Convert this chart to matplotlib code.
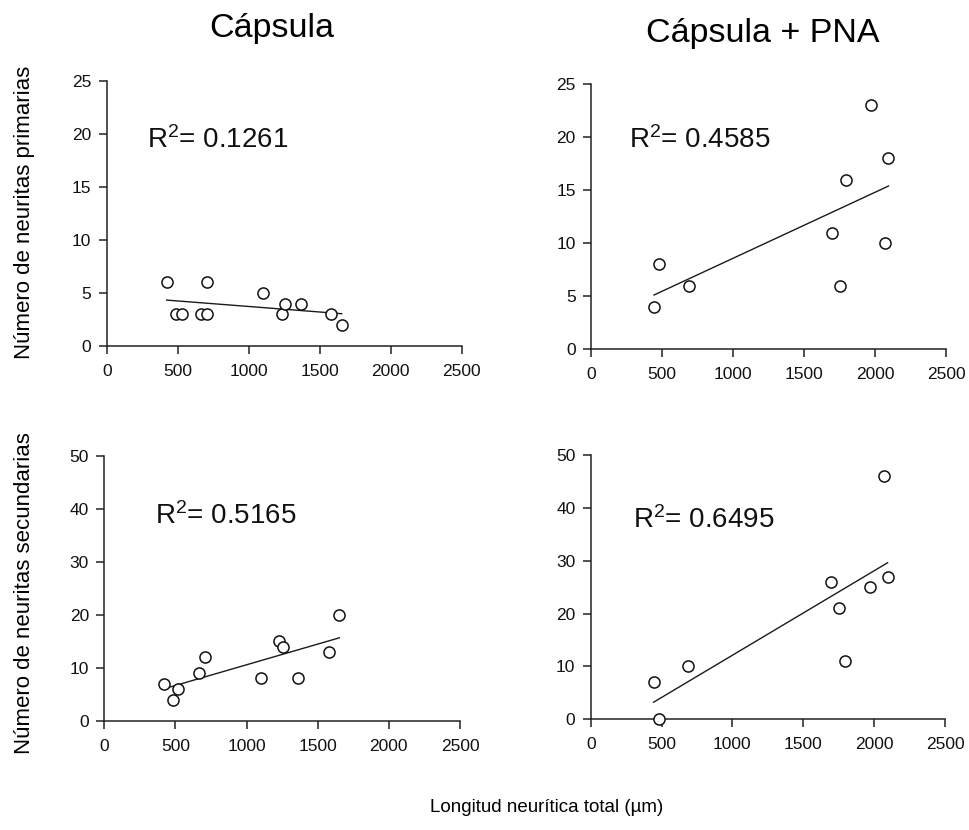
import numpy as np
import matplotlib
matplotlib.use("Agg")
import matplotlib.pyplot as plt

plt.rcParams['font.family'] = ['Liberation Sans', 'DejaVu Sans']
plt.rcParams['mathtext.fontset'] = 'custom'
plt.rcParams['mathtext.rm'] = 'Liberation Sans'
plt.rcParams['mathtext.it'] = 'Liberation Sans'

# Datos
# Cápsula - neuritas primarias
cap_long_prim = [422, 490, 527, 661, 705, 709, 1103, 1232, 1256, 1366, 1580, 1655]
cap_prim = [6, 3, 3, 3, 3, 6, 5, 3, 4, 4, 3, 2]
# Cápsula - neuritas secundarias
cap_long_sec = [420, 481, 520, 665, 708, 1101, 1230, 1258, 1364, 1577, 1652]
cap_sec = [7, 4, 6, 9, 12, 8, 15, 14, 8, 13, 20]
# Cápsula + PNA
pna_long = [444, 480, 688, 1695, 1755, 1794, 1970, 2071, 2095]
pna_prim = [4, 8, 6, 11, 6, 16, 23, 10, 18]
pna_sec = [7, 0, 10, 26, 21, 11, 25, 46, 27]

r2_labels = ["0.1261", "0.4585", "0.5165", "0.6495"]
x_ticks = [0, 500, 1000, 1500, 2000, 2500]
prim_ticks = [0, 5, 10, 15, 20, 25]
sec_ticks = [0, 10, 20, 30, 40, 50]

W, H = 970, 830
fig = plt.figure(figsize=(W / 100, H / 100), dpi=100)


def px_axes(left, top, right, bottom):
    # caja de ejes a partir de píxeles de la imagen
    return fig.add_axes([left / W, 1 - bottom / H, (right - left) / W, (bottom - top) / H])


def panel(ax, x, y, yticks, r2, r2_pos):
    x = np.array(x, dtype=float)
    y = np.array(y, dtype=float)
    m, b = np.polyfit(x, y, 1)
    xs = np.array([x.min(), x.max()])
    ax.plot(xs, m * xs + b, color='#1a1a1a', lw=1.0, zorder=2)
    ax.plot(x, y, 'o', ms=8, mfc='white', mec='#111111', mew=1.1, zorder=3,
            clip_on=False)
    ax.set_xlim(0, 2500)
    ax.set_ylim(yticks[0], yticks[-1])
    ax.set_xticks(x_ticks)
    ax.set_yticks(yticks)
    for s in ['top', 'right']:
        ax.spines[s].set_visible(False)
    for s in ['left', 'bottom']:
        ax.spines[s].set_linewidth(1.1)
        ax.spines[s].set_color('#222222')
    ax.tick_params(direction='out', length=6, width=1.1, color='#222222',
                   labelsize=12.5, labelcolor='#111111')
    ax.tick_params(axis='y', pad=5)
    ax.tick_params(axis='x', pad=7)
    ax.text(r2_pos[0], r2_pos[1], "R$^{2}$= " + r2, fontsize=20, va='baseline',
            ha='left', color='#111111')


ax1 = px_axes(106.7, 80.7, 461.7, 346)
ax2 = px_axes(591, 84, 946, 349.3)
ax3 = px_axes(104.3, 456, 460, 720.7)
ax4 = px_axes(590.7, 455.2, 945, 719.3)

panel(ax1, cap_long_prim, cap_prim, prim_ticks, r2_labels[0], (282, 18.66))
panel(ax2, pna_long, pna_prim, prim_ticks, r2_labels[1], (268, 19.0))
panel(ax3, cap_long_sec, cap_sec, sec_ticks, r2_labels[2], (356, 37.2))
panel(ax4, pna_long, pna_sec, sec_ticks, r2_labels[3], (300, 36.2))

# títulos y etiquetas
fig.text(272 / W, 1 - 36.7 / H, "Cápsula", fontsize=24.5, ha='center', va='baseline')
fig.text(763 / W, 1 - 41.7 / H, "Cápsula + PNA", fontsize=24.5, ha='center', va='baseline')
fig.text(25 / W, 1 - 212 / H, "Número de neuritas primarias", fontsize=16,
         rotation=90, ha='center', va='center')
fig.text(25 / W, 1 - 593.5 / H, "Número de neuritas secundarias", fontsize=16,
         rotation=90, ha='center', va='center')
fig.text(546.7 / W, 1 - 811.7 / H, "Longitud neurítica total (\u00b5m)", fontsize=13.5,
         ha='center', va='baseline')

fig.savefig("out.png", dpi=100)
